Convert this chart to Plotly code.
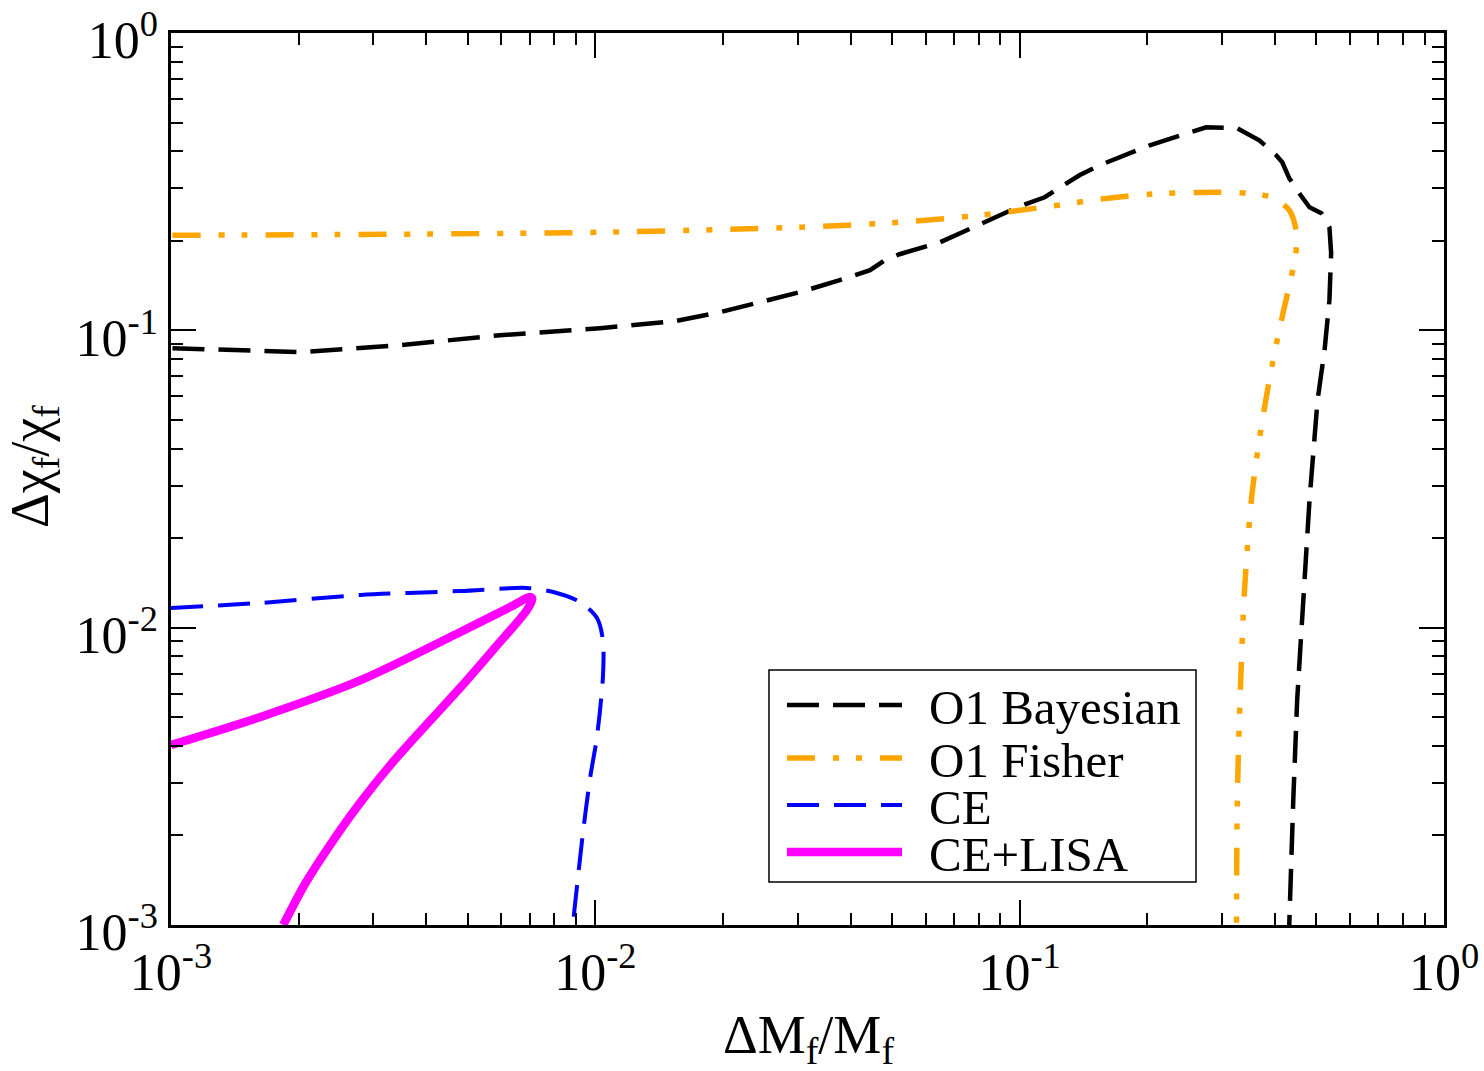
import plotly.graph_objects as go

# ---------------- data ----------------
o1_bayes_x = [0.001008, 0.00202, 0.003468, 0.005963, 0.01026, 0.0154, 0.01965, 0.02443, 0.03034,
              0.03768, 0.0444, 0.0481, 0.0521, 0.0649, 0.0784, 0.0897, 0.1, 0.1145, 0.1276, 0.1383,
              0.1543, 0.2025, 0.2752, 0.3258, 0.367, 0.4024, 0.4157, 0.4318, 0.456, 0.482, 0.514,
              0.537, 0.542, 0.537, 0.523, 0.5035, 0.482, 0.4665, 0.4508, 0.4414, 0.4318]
o1_bayes_y = [0.0871, 0.0845, 0.0892, 0.0963, 0.1017, 0.1073, 0.1151, 0.1244, 0.1344,
              0.1475, 0.1593, 0.1722, 0.1803, 0.1977, 0.2239, 0.2439, 0.2612, 0.2803, 0.3076, 0.3324,
              0.3591, 0.419, 0.482, 0.4784, 0.4357, 0.3881, 0.3675, 0.325, 0.2891, 0.2595, 0.2477,
              0.2222, 0.182, 0.1263, 0.0858, 0.0582, 0.0269, 0.0124, 0.00572, 0.00264, 0.001]

o1_fisher_x = [0.001007, 0.003468, 0.01026, 0.03034, 0.0521, 0.0805, 0.1177, 0.1543, 0.2025, 0.291,
               0.3477, 0.3917, 0.4318, 0.449, 0.447, 0.432, 0.409, 0.3875, 0.367, 0.3516, 0.3388,
               0.3312, 0.3258, 0.3243]
o1_fisher_y = [0.2088, 0.2105, 0.2138, 0.2222, 0.231, 0.2439, 0.2612, 0.276, 0.287, 0.2916,
               0.289, 0.2803, 0.2536, 0.2138, 0.1787, 0.1417, 0.1, 0.068, 0.0428, 0.0269, 0.0134,
               0.00618, 0.00264, 0.001]

ce_x = [0.001, 0.001625, 0.0028, 0.00481, 0.0069, 0.00796, 0.0092, 0.01009, 0.01042, 0.01042,
        0.01009, 0.00973, 0.00935, 0.00885]
ce_y = [0.01164, 0.01211, 0.01288, 0.01328, 0.0136, 0.01318, 0.0122, 0.01077, 0.00908, 0.00683,
        0.0043, 0.00315, 0.00204, 0.001]

ce_lisa_x = [0.001, 0.001625, 0.0028, 0.00481, 0.0063, 0.00701, 0.0071, 0.0069, 0.00574, 0.0048,
             0.004014, 0.003337, 0.00279, 0.002372, 0.00207, 0.001839]
ce_lisa_y = [0.00403, 0.00501, 0.00666, 0.00967, 0.01173, 0.01267, 0.0125, 0.01147, 0.008414, 0.00627,
             0.004745, 0.003537, 0.002575, 0.001861, 0.001376, 0.001]

series_names = ["O1 Bayesian", "O1 Fisher", "CE", "CE+LISA"]
major_ticks = [1e-3, 1e-2, 1e-1, 1]
major_text = ["10<sup>-3</sup>", "10<sup>-2</sup>", "10<sup>-1</sup>", "10<sup>0</sup>"]
minor_ticks = [m * 10 ** e for e in (-3, -2, -1) for m in range(2, 10)]

# ---------------- styles ----------------
FONT = "Liberation Serif"
styles = [
    dict(color="black", width=4.5, dash="32px,14px"),
    dict(color="#FFA500", width=5.5, dash="28px,18px,6px,17px,6px,18px"),
    dict(color="#0000FF", width=4, dash="32px,15px"),
    dict(color="#FF00FF", width=8.5, dash="solid"),
]
shapes_kind = ["linear", "spline", "spline", "spline"]
data = [(o1_bayes_x, o1_bayes_y), (o1_fisher_x, o1_fisher_y), (ce_x, ce_y), (ce_lisa_x, ce_lisa_y)]

fig = go.Figure()
for (xs, ys), name, st, sh in zip(data, series_names, styles, shapes_kind):
    line = dict(st, shape=sh)
    if sh == "spline":
        line["smoothing"] = 0.8
    fig.add_trace(go.Scatter(x=xs, y=ys, mode="lines", name=name, line=line, showlegend=False))

W, H = 1484, 1071
ML, MR, MT, MB = 171, 40, 33, 146
PW, PH = W - ML - MR, H - MT - MB


def px2paper(px, py):
    return (px - ML) / PW, (H - MB - py) / PH


# manual legend (long line samples like the original)
shapes = []
annotations = []
x0, y0 = px2paper(769, 670)
x1, y1 = px2paper(1196, 882)
shapes.append(dict(type="rect", xref="paper", yref="paper", x0=x0, y0=y1, x1=x1, y1=y0,
                   line=dict(color="black", width=1.5), fillcolor="white", layer="above"))
rows = [705, 758, 805, 852]
for name, st, ry in zip(series_names, styles, rows):
    lx0, ly = px2paper(787, ry)
    lx1, _ = px2paper(902, ry)
    shapes.append(dict(type="line", xref="paper", yref="paper", x0=lx0, x1=lx1, y0=ly, y1=ly,
                       line=st, layer="above"))
    tx, ty = px2paper(927, ry + 2)
    annotations.append(dict(text=name, xref="paper", yref="paper", x=tx, y=ty, xanchor="left",
                            yanchor="middle", showarrow=False,
                            font=dict(family=FONT, size=49, color="black")))

# axis titles
tx, ty = px2paper(808, 1038)
annotations.append(dict(text="ΔM<sub>f</sub>/M<sub>f</sub>", xref="paper", yref="paper", x=tx, y=ty,
                        xanchor="center", yanchor="middle", showarrow=False,
                        font=dict(family=FONT, size=54, color="black")))
tx, ty = px2paper(34, 467)
annotations.append(dict(text="Δχ<sub>f</sub>/χ<sub>f</sub>", xref="paper", yref="paper", x=tx, y=ty,
                        xanchor="center", yanchor="middle", showarrow=False, textangle=-90,
                        font=dict(family=FONT, size=54, color="black")))

axis_common = dict(
    type="log", showline=True, linecolor="black", linewidth=2.5, mirror="allticks",
    ticks="inside", ticklen=25, tickwidth=2, tickcolor="black",
    tickvals=major_ticks, ticktext=major_text, ticklabeloverflow="allow", automargin=False,
    minor=dict(ticks="inside", ticklen=12, tickwidth=2, tickcolor="black", tickvals=minor_ticks,
               showgrid=False),
    showgrid=False, zeroline=False,
    tickfont=dict(family=FONT, size=52, color="black"),
)

fig.update_xaxes(range=[-3, 0], **axis_common)
fig.update_yaxes(range=[-3.0001, 0.0001], ticklabelshift=7, **axis_common)

fig.update_layout(
    width=W, height=H,
    margin=dict(l=ML, r=MR, t=MT, b=MB, autoexpand=False),
    paper_bgcolor="white", plot_bgcolor="white",
    shapes=shapes, annotations=annotations,
    showlegend=False,
)

fig.write_html("out.html")
